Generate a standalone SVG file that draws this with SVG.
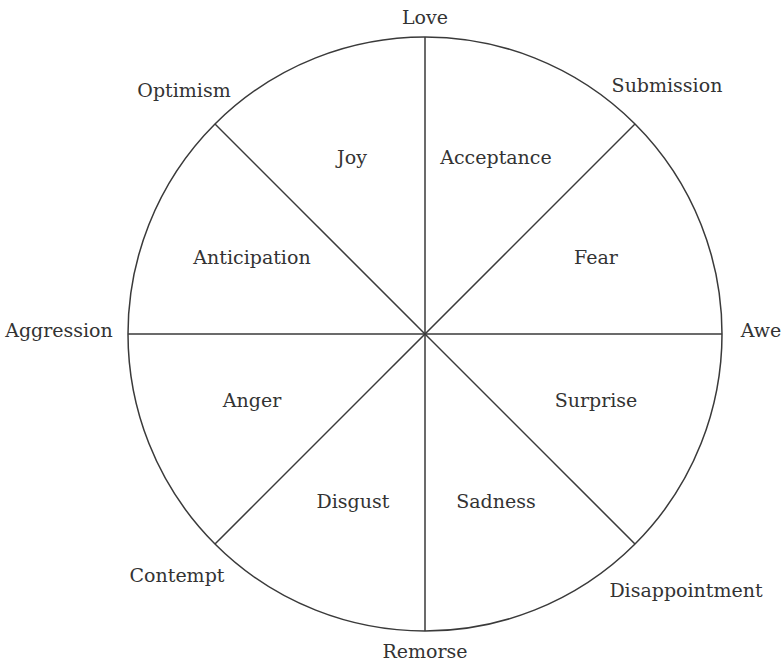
<svg xmlns="http://www.w3.org/2000/svg" width="783" height="662" viewBox="0 0 783 662">
<style>
.l{stroke:#3a3a3a;stroke-width:1.5;fill:none}
text{font-family:"DejaVu Serif","Liberation Serif",serif;font-size:19px;fill:#333;text-anchor:middle}
</style>
<rect width="783" height="662" fill="#fff"/>
<g id="wheel">
<circle class="l" cx="425" cy="334" r="297"/>
</g>
<g id="connectors">
<line class="l" x1="425" y1="37" x2="425" y2="631"/>
<line class="l" x1="128" y1="334" x2="722" y2="334"/>
<line class="l" x1="215" y1="124" x2="635" y2="544"/>
<line class="l" x1="635" y1="124" x2="215" y2="544"/>
</g>
<g id="n-love"><text x="425" y="24">Love</text></g>
<g id="n-optimism"><text x="184" y="97">Optimism</text></g>
<g id="n-submission"><text x="667" y="92">Submission</text></g>
<g id="n-aggression"><text x="59" y="337">Aggression</text></g>
<g id="n-awe"><text x="761" y="337">Awe</text></g>
<g id="n-contempt"><text x="177" y="582">Contempt</text></g>
<g id="n-disappointment"><text x="686" y="597">Disappointment</text></g>
<g id="n-remorse"><text x="425" y="658">Remorse</text></g>
<g id="n-joy"><text x="352" y="164">Joy</text></g>
<g id="n-acceptance"><text x="496" y="164">Acceptance</text></g>
<g id="n-anticipation"><text x="252" y="264">Anticipation</text></g>
<g id="n-fear"><text x="596" y="264">Fear</text></g>
<g id="n-anger"><text x="252" y="407">Anger</text></g>
<g id="n-surprise"><text x="596" y="407">Surprise</text></g>
<g id="n-disgust"><text x="353" y="508">Disgust</text></g>
<g id="n-sadness"><text x="496" y="508">Sadness</text></g>
</svg>
